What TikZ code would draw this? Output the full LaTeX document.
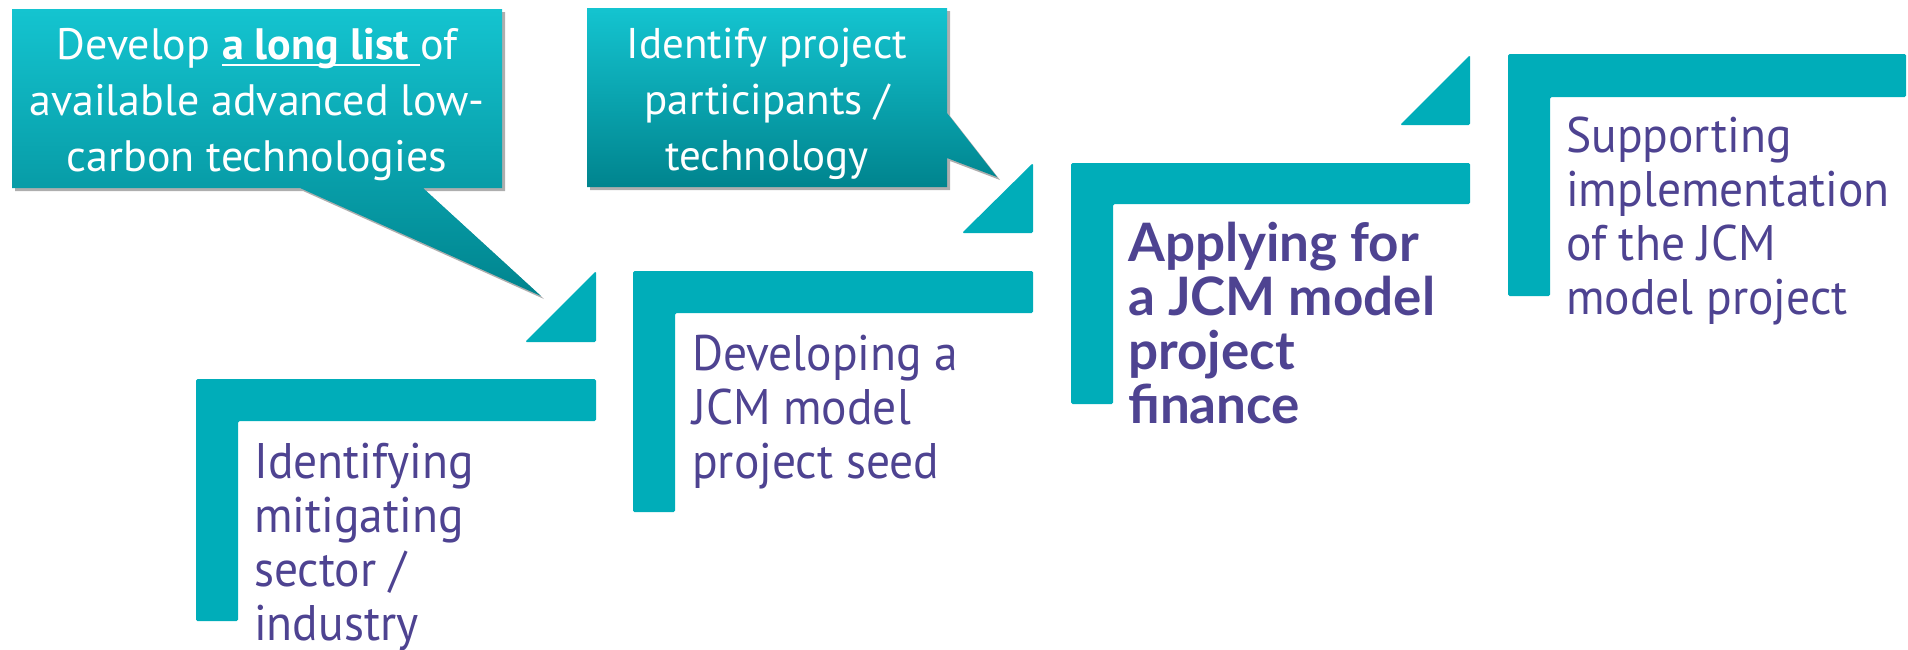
\documentclass[tikz,border=0pt]{standalone}
\usepackage{fontspec}
\setmainfont{PT Sans}
\newfontfamily\stepfam[FakeStretch=0.95]{PT Sans}
\newfontfamily\boldfam{Lato}
\usetikzlibrary{shadows}
\definecolor{tealL}{HTML}{00ADB9}
\definecolor{purp}{HTML}{4E4391}
\definecolor{gtop}{HTML}{14C4D0}
\definecolor{gbot}{HTML}{00848E}
\newcommand\myul[1]{\setbox0\hbox{#1}\rlap{\rule[-7pt]{\wd0}{2.5pt}}\box0}
\tikzset{
  lshape/.style={fill=tealL, rounded corners=1.5pt},
  steptext/.style={anchor=base west, inner sep=0pt, align=left, text=purp,
    font=\stepfam\fontsize{50}{54}\selectfont},
  callout/.style={top color=gtop, bottom color=gbot,
    drop shadow={shadow xshift=3pt, shadow yshift=-3pt, opacity=0.45, fill=black!70}},
  callouttext/.style={anchor=base, inner sep=0pt, align=center, text=white,
    font=\fontsize{43}{56}\selectfont},
}
\begin{document}
\begin{tikzpicture}[x=1pt,y=-1pt]
\useasboundingbox (0,0) rectangle (1908,649);
% callouts
\path[callout] (12,9) -- (502,9) -- (502,188) -- (423,188) -- (541,296) -- (300,188) -- (12,188) -- cycle;
\path[callout] (587,8) -- (947,8) -- (947,113) -- (997,177) -- (947,158) -- (947,187) -- (587,187) -- cycle;
\node[callouttext, font=\fontsize{44}{56}\selectfont] (c1) at (257,171) {Develop \myul{\textbf{a long list }}of\\available advanced low-\\carbon technologies};
\node[callouttext] (c2) at (767,170) {Identify project\\participants /\\technology};
% L shapes
\fill[lshape] (196,379) -- (596,379) -- (596,421) -- (238,421) -- (238,621) -- (196,621) -- cycle;
\fill[lshape] (633,271) -- (1033,271) -- (1033,313) -- (675,313) -- (675,512) -- (633,512) -- cycle;
\fill[lshape] (1071,163) -- (1470,163) -- (1470,204) -- (1113,204) -- (1113,404) -- (1071,404) -- cycle;
\fill[lshape] (1508,54) -- (1906,54) -- (1906,97) -- (1550,97) -- (1550,296) -- (1508,296) -- cycle;
% triangles
\fill[lshape] (596,271) -- (596,342) -- (525,342) -- cycle;
\fill[lshape] (1033,163) -- (1033,233) -- (962,233) -- cycle;
\fill[lshape] (1470,55) -- (1470,125) -- (1400,125) -- cycle;
% texts
\node[steptext] (s1) at (254,640) {Identifying\\mitigating\\sector /\\industry};
\node[steptext] (s2) at (692,478) {Developing a\\JCM model\\project seed};
\node[steptext, font=\boldfam\bfseries\fontsize{53}{54}\selectfont] (s3) at (1128,423) {Applying for\\a JCM model\\project\\finance};
\node[steptext] (s4) at (1566,314) {Supporting\\implementation\\of the JCM\\model project};
\end{tikzpicture}
\end{document}
